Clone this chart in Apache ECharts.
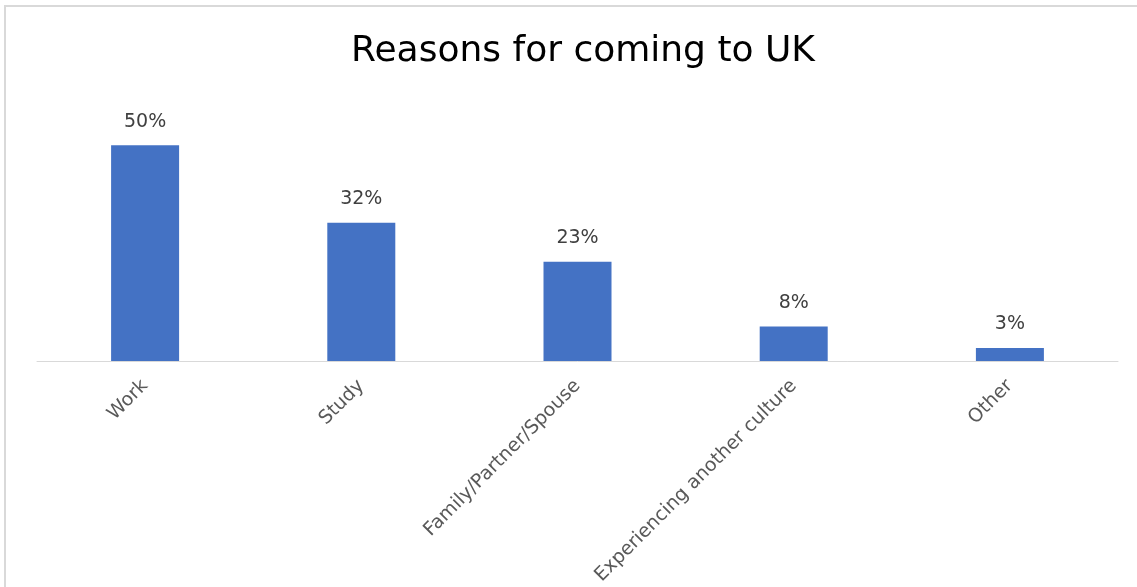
<!DOCTYPE html>
<html><head><meta charset="utf-8">
<script src="https://cdn.jsdelivr.net/npm/echarts@6/dist/echarts.min.js"></script>
<style>
html,body{margin:0;padding:0;background:#fff;}
#frame{position:absolute;left:4px;top:5px;width:1133px;height:582px;border-top:2px solid #d9d9d9;border-left:2px solid #d9d9d9;box-sizing:border-box;}
#c{position:absolute;left:0;top:0;width:1137px;height:587px;}
</style></head>
<body>
<div id="frame"></div>
<div id="c"></div>
<script>
const categories = ["Work", "Study", "Family/Partner/Spouse", "Experiencing another culture", "Other"];
const values = [50, 32, 23, 8, 3];
const titleText = "Reasons for coming to UK";

const chart = echarts.init(document.getElementById('c'));
chart.setOption({
  backgroundColor: 'transparent',
  animation: false,
  title: {
    text: titleText,
    left: 578, top: 29, textAlign: 'center',
    textStyle: {fontFamily: 'DejaVu Sans', fontSize: 36, fontWeight: 'normal', color: '#000'}
  },
  grid: {left: 37, right: 19, top: 102, bottom: 226, containLabel: false, outerBoundsMode: 'none'},
  xAxis: {
    type: 'category', data: categories,
    axisLine: {lineStyle: {color: '#d9d9d9', width: 1}},
    axisTick: {show: false},
    axisLabel: {rotate: 45, margin: 22, color: '#595959', fontFamily: 'DejaVu Sans', fontSize: 19, interval: 0}
  },
  yAxis: {type: 'value', min: 0, max: 60, show: false, splitLine: {show: false}},
  series: [{
    type: 'bar', data: values, barWidth: 68,
    itemStyle: {color: '#4472C4'},
    label: {show: true, position: 'top', distance: 14, formatter: '{c}%', color: '#404040', fontFamily: 'DejaVu Sans', fontSize: 19}
  }]
});
</script>
</body></html>
